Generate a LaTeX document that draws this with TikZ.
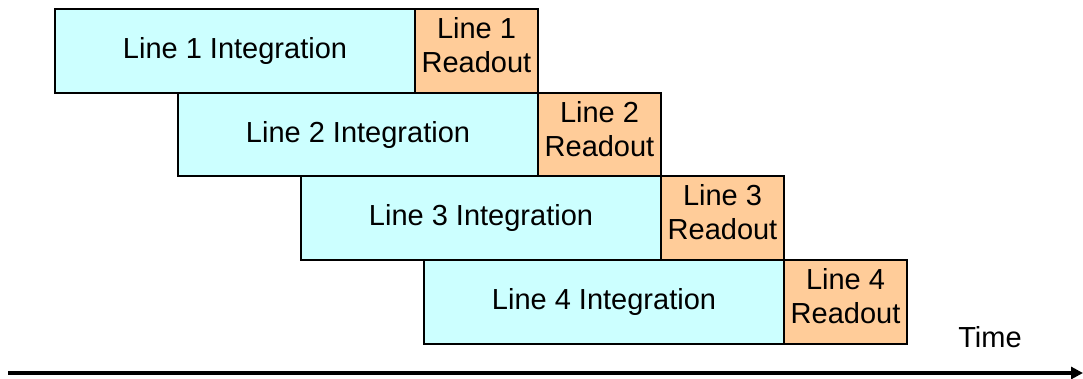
\documentclass[tikz,border=0pt]{standalone}
\usepackage{fontspec}
\setmainfont{Liberation Sans}
\usepackage{tikz}
\usetikzlibrary{positioning,arrows.meta}
\definecolor{integfill}{RGB}{204,255,255}
\definecolor{readfill}{RGB}{255,204,153}
\tikzset{
  phase/.style={draw=black, line width=2pt, outer sep=0pt, inner sep=0pt,
    minimum height=83.5pt, align=center, font=\fontsize{29}{34}\selectfont},
  integ/.style={phase, fill=integfill, minimum width=360pt},
  readout/.style={phase, fill=readfill, minimum width=123pt, text depth=12pt},
  timeline/.style={line width=3.5pt, -{Triangle[length=12pt,width=12pt]}}
}
\begin{document}
\begin{tikzpicture}[x=1pt,y=-1pt]
  \useasboundingbox (0,0) rectangle (1083,379);
  % first line
  \node[integ, anchor=north west] (i1) at (55,9.5) {Line 1 Integration};
  \node[readout, right=0pt of i1] (r1) {Line 1\\Readout};
  % the next lines start where the previous readout starts
  \node[integ, anchor=north east] (i2) at (r1.south east) {Line 2 Integration};
  \node[readout, right=0pt of i2] (r2) {Line 2\\Readout};
  \node[integ, anchor=north east] (i3) at (r2.south east) {Line 3 Integration};
  \node[readout, right=0pt of i3] (r3) {Line 3\\Readout};
  \node[integ, anchor=north east] (i4) at (r3.south east) {Line 4 Integration};
  \node[readout, right=0pt of i4] (r4) {Line 4\\Readout};
  % time axis
  \coordinate (t0) at (8,373);
  \coordinate (t1) at (1083,373);
  \draw[timeline] (t0) -- (t1);
  \node[font=\fontsize{29}{34}\selectfont] (time) at (990,337) {Time};
\end{tikzpicture}
\end{document}
